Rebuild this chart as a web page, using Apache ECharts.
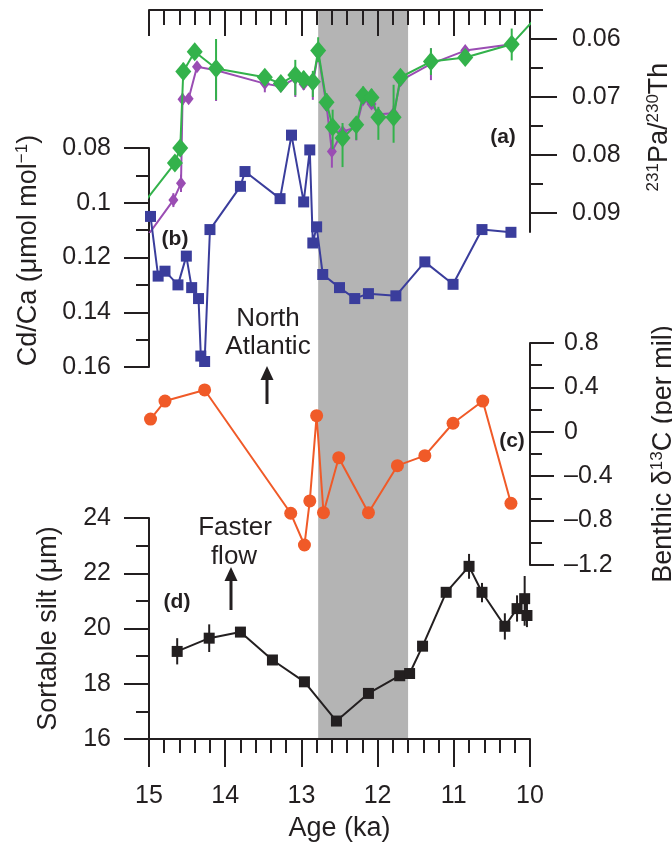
<!DOCTYPE html>
<html>
<head>
<meta charset="utf-8">
<script src="https://cdn.jsdelivr.net/npm/echarts@6/dist/echarts.min.js"></script>
<style>
  html, body { margin: 0; padding: 0; background: #ffffff; }
  #chart { width: 672px; height: 845px; }
</style>
</head>
<body>
<div id="chart"></div>
<script>
// Shared age axis (ka, older on the left)
const ageMin = 10, ageMax = 15;
// Shaded interval (ka)
const bandStart = 12.78, bandEnd = 11.6;

// (a) 231Pa/230Th: [age ka, ratio]
const paThGreen = [
  [15.05, 0.0880], [14.66, 0.0814], [14.59, 0.0788], [14.55, 0.0656], [14.40, 0.0622],
  [14.12, 0.0651], [13.48, 0.0666], [13.27, 0.0677], [13.08, 0.0662], [12.97, 0.0670],
  [12.85, 0.0674], [12.78, 0.0620], [12.67, 0.0709], [12.59, 0.0752], [12.46, 0.0771],
  [12.28, 0.0748], [12.19, 0.0697], [12.08, 0.0701], [11.99, 0.0735], [11.79, 0.0735],
  [11.70, 0.0666], [11.30, 0.0639], [10.85, 0.0632], [10.24, 0.0609], [9.90, 0.0560]
];
// [age ka, low, high]
const paThGreenErr = [
  [14.66, 0.0802, 0.0826], [14.59, 0.0778, 0.0798], [14.55, 0.0641, 0.0671], [14.40, 0.0612, 0.0632],
  [14.12, 0.0600, 0.0705], [13.48, 0.0656, 0.0676], [13.27, 0.0667, 0.0687], [13.08, 0.0636, 0.0697],
  [12.97, 0.0655, 0.0685], [12.85, 0.0655, 0.0700], [12.78, 0.0597, 0.0640], [12.67, 0.0694, 0.0724],
  [12.59, 0.0722, 0.0790], [12.46, 0.0745, 0.0821], [12.28, 0.0735, 0.0774], [12.19, 0.0682, 0.0712],
  [12.08, 0.0686, 0.0716], [11.99, 0.0717, 0.0774], [11.79, 0.0679, 0.0779], [11.70, 0.0655, 0.0680],
  [11.30, 0.0616, 0.0662], [10.85, 0.0622, 0.0642], [10.24, 0.0582, 0.0637]
];
const paThPurple = [
  [15.05, 0.0945], [14.68, 0.0878], [14.58, 0.0849], [14.56, 0.0704], [14.48, 0.0703],
  [14.37, 0.0648], [14.12, 0.0654], [13.48, 0.0677], [13.27, 0.0682], [13.08, 0.0668],
  [12.97, 0.0678], [12.85, 0.0678], [12.78, 0.0625], [12.67, 0.0715], [12.60, 0.0794],
  [12.46, 0.0760], [12.28, 0.0752], [12.19, 0.0705], [12.08, 0.0712], [11.99, 0.0730],
  [11.79, 0.0728], [11.70, 0.0672], [11.30, 0.0643], [10.85, 0.0620], [10.24, 0.0609]
];
const paThPurpleErr = [
  [14.68, 0.0866, 0.0890], [14.58, 0.0834, 0.0864], [14.56, 0.0694, 0.0714], [14.12, 0.0645, 0.0707],
  [13.48, 0.0665, 0.0692], [13.08, 0.0660, 0.0700], [12.97, 0.0668, 0.0688], [12.85, 0.0660, 0.0705],
  [12.60, 0.0774, 0.0822], [12.28, 0.0740, 0.0775], [11.79, 0.0715, 0.0745], [11.30, 0.0616, 0.0671],
  [10.85, 0.0612, 0.0630]
];
const paThMajorTicks = [0.06, 0.07, 0.08, 0.09];
const paThMinorTicks = [0.055, 0.065, 0.075, 0.085];

// (b) Cd/Ca (µmol/mol): [age ka, value]
const cdCa = [
  [14.98, 0.1050], [14.88, 0.1268], [14.79, 0.1250], [14.62, 0.1300], [14.51, 0.1195],
  [14.44, 0.1310], [14.35, 0.1350], [14.32, 0.1560], [14.27, 0.1580], [14.20, 0.1098],
  [13.80, 0.0940], [13.74, 0.0886], [13.28, 0.0985], [13.13, 0.0753], [12.97, 0.0997],
  [12.89, 0.0807], [12.85, 0.1147], [12.80, 0.1088], [12.72, 0.1262], [12.50, 0.1310],
  [12.30, 0.1350], [12.12, 0.1332], [11.76, 0.1340], [11.38, 0.1216], [11.01, 0.1298],
  [10.63, 0.1098], [10.25, 0.1108]
];

// (c) Benthic d13C (per mil): [age ka, value]
const d13C = [
  [14.98, 0.115], [14.79, 0.277], [14.27, 0.377], [13.14, -0.734], [12.96, -1.020],
  [12.89, -0.623], [12.80, 0.145], [12.71, -0.729], [12.51, -0.233], [12.12, -0.729],
  [11.74, -0.305], [11.38, -0.215], [11.01, 0.077], [10.62, 0.277], [10.25, -0.644]
];

// (d) Sortable silt mean grain size (µm): [age ka, value]
const silt = [
  [14.63, 19.17], [14.21, 19.65], [13.80, 19.87], [13.38, 18.86], [12.96, 18.07],
  [12.54, 16.65], [12.12, 17.65], [11.71, 18.29], [11.58, 18.37], [11.41, 19.36],
  [11.10, 21.31], [10.80, 22.25], [10.63, 21.31], [10.33, 20.08], [10.17, 20.72],
  [10.07, 21.08], [10.04, 20.47]
];
const siltErr = [
  [14.63, 18.70, 19.65], [14.21, 19.15, 20.15], [10.80, 21.80, 22.70], [10.63, 20.95, 21.65],
  [10.33, 19.60, 20.55], [10.17, 20.25, 21.20], [10.07, 20.10, 21.90], [10.04, 20.05, 20.90]
];

const INK = '#231f20';
const FONT = '"Liberation Sans", Arial, Helvetica, sans-serif';
const GREEN = '#33b24b';
const PURPLE = '#9a4db3';
const BLUE = '#3a3d9c';
const ORANGE = '#f05a28';
const BAND = '#b4b4b4';

const gridLeft = 149, gridRight = 672 - 530;

function panelGrid(top, height) {
  return { left: gridLeft, right: gridRight, top, height, containLabel: false, outerBoundsMode: 'none' };
}
function hiddenX(gridIndex) {
  return { type: 'value', gridIndex, min: ageMin, max: ageMax, inverse: true, show: false };
}
function hiddenY(gridIndex, min, max) {
  return { type: 'value', gridIndex, min, max, show: false };
}
const axisLineStyle = { color: INK, width: 2 };
const labelStyle = { color: INK, fontFamily: FONT, fontSize: 25 };
const nameStyle = {
  color: INK, fontFamily: FONT, fontSize: 27, lineHeight: 30,
  rich: { sup: { fontFamily: FONT, fontSize: 17, lineHeight: 30, verticalAlign: 'top', color: INK } }
};

// Vertical error bars drawn through the axes' own scales
function errorBars(data, xIdx, yIdx, color, z) {
  return {
    type: 'custom', xAxisIndex: xIdx, yAxisIndex: yIdx, z, silent: true,
    encode: { x: 0, y: [1, 2] },
    data,
    renderItem(params, api) {
      const lo = api.coord([api.value(0), api.value(1)]);
      const hi = api.coord([api.value(0), api.value(2)]);
      return {
        type: 'line',
        shape: { x1: lo[0], y1: lo[1], x2: hi[0], y2: hi[1] },
        style: { stroke: color, lineWidth: 2 }
      };
    }
  };
}

function arrow(x, yTip, yTail) {
  return [
    { type: 'line', shape: { x1: x, y1: yTail, x2: x, y2: yTip + 8 }, style: { stroke: INK, lineWidth: 3 } },
    { type: 'polygon', shape: { points: [[x, yTip], [x - 6.5, yTip + 14], [x + 6.5, yTip + 14]] }, style: { fill: INK } }
  ];
}
function text(str, x, y, size, weight) {
  return {
    type: 'text', x, y,
    style: { text: str, fill: INK, font: (weight || 'normal') + ' ' + size + 'px ' + FONT,
             align: 'center', verticalAlign: 'middle', textAlign: 'center', textVerticalAlign: 'middle' }
  };
}

const option = {
  animation: false,
  backgroundColor: '#ffffff',
  grid: [
    panelGrid(10, 222),   // (a)
    panelGrid(148, 219),  // (b)
    panelGrid(343, 222),  // (c)
    panelGrid(518, 221),  // (d)
    panelGrid(10, 729)    // shaded interval
  ],
  xAxis: [
    {
      type: 'value', gridIndex: 0, position: 'top', min: ageMin, max: ageMax, inverse: true, interval: 1, z: 1,
      axisLine: { show: true, onZero: false, lineStyle: axisLineStyle },
      axisTick: { show: true, inside: true, length: 26, lineStyle: axisLineStyle },
      minorTick: { show: true, splitNumber: 5, length: 15, lineStyle: axisLineStyle },
      axisLabel: { show: false }, splitLine: { show: false }
    },
    hiddenX(1),
    hiddenX(2),
    {
      type: 'value', gridIndex: 3, position: 'bottom', min: ageMin, max: ageMax, inverse: true, interval: 1, z: 1,
      axisLine: { show: true, onZero: false, lineStyle: axisLineStyle },
      axisTick: { show: true, length: 28, lineStyle: axisLineStyle },
      minorTick: { show: true, splitNumber: 5, length: 14, lineStyle: axisLineStyle },
      axisLabel: Object.assign({ margin: 45 }, labelStyle),
      splitLine: { show: false },
      name: 'Age (ka)', nameLocation: 'middle', nameGap: 75, nameTextStyle: nameStyle
    },
    hiddenX(4)
  ],
  yAxis: [
    {
      type: 'value', gridIndex: 0, position: 'right', inverse: true, min: 0.055, max: 0.0933, z: 1,
      axisLine: { show: true, onZero: false, lineStyle: axisLineStyle },
      axisTick: { show: true, length: 27, lineStyle: axisLineStyle, customValues: paThMajorTicks },
      axisLabel: Object.assign({ margin: 42, customValues: paThMajorTicks, formatter: v => v.toFixed(2) }, labelStyle),
      splitLine: { show: false },
      name: '{sup|231}Pa/{sup|230}Th', nameLocation: 'middle', nameRotate: 90, nameGap: 115,
      nameTextStyle: Object.assign({ padding: [0, 12, 0, 0] }, nameStyle)
    },
    {
      type: 'value', gridIndex: 0, position: 'right', inverse: true, min: 0.055, max: 0.0933, z: 1,
      axisLine: { show: false },
      axisTick: { show: true, length: 13, lineStyle: axisLineStyle, customValues: paThMinorTicks },
      axisLabel: { show: false }, splitLine: { show: false }
    },
    {
      type: 'value', gridIndex: 1, position: 'left', inverse: true, min: 0.08, max: 0.16, interval: 0.02, z: 1,
      axisLine: { show: true, onZero: false, lineStyle: axisLineStyle },
      axisTick: { show: true, length: 25, lineStyle: axisLineStyle },
      minorTick: { show: true, splitNumber: 2, length: 13, lineStyle: axisLineStyle },
      axisLabel: Object.assign({ margin: 38, formatter: v => String(+v.toFixed(2)) }, labelStyle),
      splitLine: { show: false },
      name: 'Cd/Ca (μmol mol{sup|−1})', nameLocation: 'middle', nameRotate: 90, nameGap: 105,
      nameTextStyle: Object.assign({ padding: [0, 0, 0, 14] }, nameStyle)
    },
    {
      type: 'value', gridIndex: 2, position: 'right', min: -1.2, max: 0.8, interval: 0.4, z: 1,
      axisLine: { show: true, onZero: false, lineStyle: axisLineStyle },
      axisTick: { show: true, length: 24, lineStyle: axisLineStyle },
      minorTick: { show: true, splitNumber: 2, length: 12, lineStyle: axisLineStyle },
      axisLabel: Object.assign({
        margin: 34,
        formatter: v => { const r = +v.toFixed(1); return r < 0 ? '\u2013' + Math.abs(r) : String(r); }
      }, labelStyle),
      splitLine: { show: false },
      name: 'Benthic δ{sup|13}C (per mil)', nameLocation: 'middle', nameRotate: 90, nameGap: 119,
      nameTextStyle: nameStyle
    },
    {
      type: 'value', gridIndex: 3, position: 'left', min: 16, max: 24, interval: 2, z: 1,
      axisLine: { show: true, onZero: false, lineStyle: axisLineStyle },
      axisTick: { show: true, length: 25, lineStyle: axisLineStyle },
      minorTick: { show: true, splitNumber: 2, length: 13, lineStyle: axisLineStyle },
      axisLabel: Object.assign({ margin: 38 }, labelStyle),
      splitLine: { show: false },
      name: 'Sortable silt (μm)', nameLocation: 'middle', nameRotate: 90, nameGap: 85,
      nameTextStyle: nameStyle
    },
    hiddenY(4, 0, 1)
  ],
  series: [
    {
      type: 'custom', xAxisIndex: 4, yAxisIndex: 5, z: 0, silent: true,
      encode: { x: [0, 1] },
      data: [[bandStart, bandEnd]],
      renderItem(params, api) {
        const p0 = api.coord([api.value(0), 1]);
        const p1 = api.coord([api.value(1), 0]);
        return { type: 'rect', shape: { x: p0[0], y: p0[1], width: p1[0] - p0[0], height: p1[1] - p0[1] },
                 style: { fill: BAND } };
      }
    },
    errorBars(paThPurpleErr, 0, 0, PURPLE, 2),
    {
      type: 'line', xAxisIndex: 0, yAxisIndex: 0, z: 2, clip: true, data: paThPurple,
      symbol: 'diamond', symbolSize: [10, 13], showAllSymbol: true,
      lineStyle: { color: PURPLE, width: 2 }, itemStyle: { color: PURPLE }
    },
    errorBars(paThGreenErr, 0, 0, GREEN, 3),
    {
      type: 'line', xAxisIndex: 0, yAxisIndex: 0, z: 3, clip: true, data: paThGreen,
      symbol: 'diamond', symbolSize: [16, 19], showAllSymbol: true,
      lineStyle: { color: GREEN, width: 2 }, itemStyle: { color: GREEN }
    },
    {
      type: 'line', xAxisIndex: 1, yAxisIndex: 2, z: 3, clip: false, data: cdCa,
      symbol: 'rect', symbolSize: 11, showAllSymbol: true,
      lineStyle: { color: BLUE, width: 2 }, itemStyle: { color: BLUE }
    },
    {
      type: 'line', xAxisIndex: 2, yAxisIndex: 3, z: 3, clip: false, data: d13C,
      symbol: 'circle', symbolSize: 13, showAllSymbol: true,
      lineStyle: { color: ORANGE, width: 2 }, itemStyle: { color: ORANGE }
    },
    errorBars(siltErr, 3, 4, INK, 3),
    {
      type: 'line', xAxisIndex: 3, yAxisIndex: 4, z: 3, clip: false, data: silt,
      symbol: 'rect', symbolSize: 11, showAllSymbol: true,
      lineStyle: { color: INK, width: 2 }, itemStyle: { color: INK }
    }
  ],
  graphic: [
    text('(a)', 503, 137, 21, 'bold'),
    text('(b)', 175, 239, 21, 'bold'),
    text('(c)', 512, 441, 21, 'bold'),
    text('(d)', 177, 602, 21, 'bold'),
    text('North', 268, 319, 26),
    text('Atlantic', 268, 347, 26),
    text('Faster', 235, 528, 26),
    text('flow', 234, 557, 26),
    ...arrow(267, 366, 404),
    ...arrow(231, 567, 610)
  ]
};

const chart = echarts.init(document.getElementById('chart'), null, { renderer: 'canvas' });
chart.setOption(option);
</script>
</body>
</html>
